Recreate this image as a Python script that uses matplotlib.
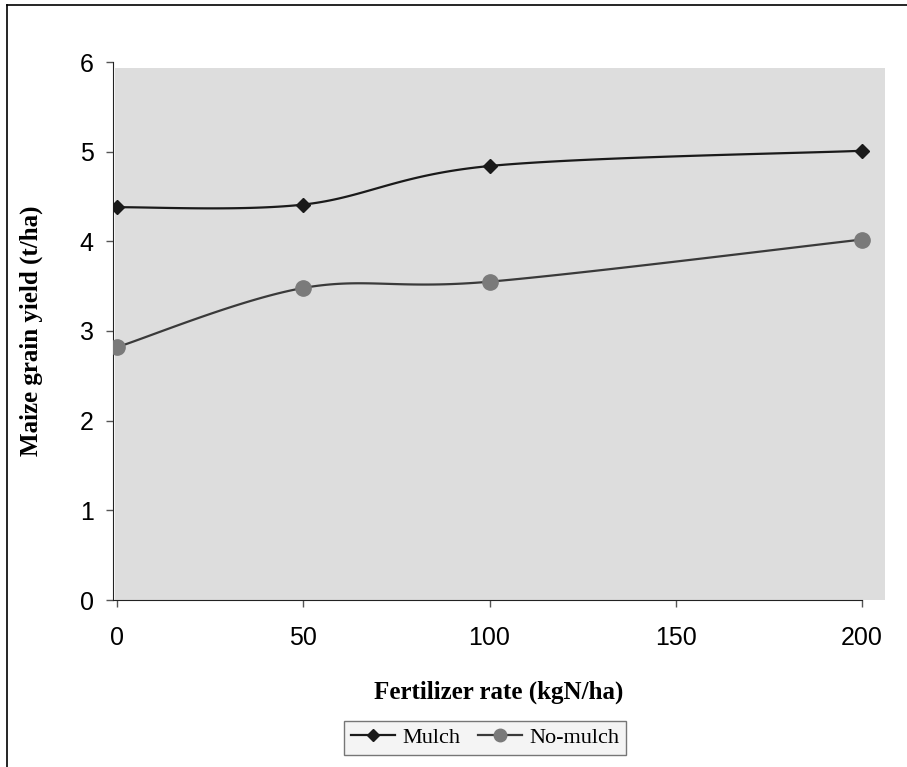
import numpy as np
import matplotlib
matplotlib.use("Agg")
from matplotlib import pyplot as plt
from matplotlib.patches import Rectangle
from matplotlib.lines import Line2D

# data
fert_rate = [0, 50, 100, 200]
mulch = [4.38, 4.41, 4.84, 5.01]
no_mulch = [2.82, 3.48, 3.55, 4.02]
x_ticks = [0, 50, 100, 150, 200]
y_ticks = [0, 1, 2, 3, 4, 5, 6]


def smooth(xs, ys, sx=3.725, sy=89.7, n=40):
    """Excel-like smoothed line: cubic Bezier through the points (screen scaled)."""
    p = np.column_stack([np.asarray(xs, float) * sx, np.asarray(ys, float) * sy])
    pts = np.vstack([p[0], p, p[-1]])
    out = []
    t = np.linspace(0, 1, n)[:, None]
    for i in range(1, len(pts) - 2):
        p0, p1 = pts[i], pts[i + 1]
        c1 = p0 + (pts[i + 1] - pts[i - 1]) / 6.0
        c2 = p1 - (pts[i + 2] - pts[i]) / 6.0
        seg = (1 - t) ** 3 * p0 + 3 * (1 - t) ** 2 * t * c1 + 3 * (1 - t) * t ** 2 * c2 + t ** 3 * p1
        out.append(seg if i == 1 else seg[1:])
    out = np.vstack(out)
    return out[:, 0] / sx, out[:, 1] / sy


fig = plt.figure(figsize=(9.07, 7.67), dpi=100)
W, H = 907, 767
ax = fig.add_axes([113 / W, 1 - 600 / H, (885 - 113) / W, (600 - 62) / H])
ax.set_facecolor("none")
ax.set_xlim(-1.1, 206.2)
ax.set_ylim(0, 6)

# gray plot area
ax.add_patch(Rectangle((-0.5, 0), 206.7, 5.93, facecolor="#dddddd", edgecolor="none", zorder=0))

mx, my = smooth(fert_rate, mulch)
nx, ny = smooth(fert_rate, no_mulch)
ax.plot(mx, my, color="#1a1a1a", lw=1.6, zorder=2)
ax.plot(fert_rate, mulch, ls="none", marker="D", ms=7, color="#1a1a1a", zorder=3)
ax.plot(nx, ny, color="#3a3a3a", lw=1.6, zorder=2)
ax.plot(fert_rate, no_mulch, ls="none", marker="o", ms=11, color="#7a7a7a", zorder=3)

for s in ["top", "right"]:
    ax.spines[s].set_visible(False)
ax.spines["left"].set_bounds(0, 6)
ax.spines["bottom"].set_bounds(-1.1, 200)
ax.spines["left"].set_color("#222222")
ax.spines["bottom"].set_color("#222222")

ax.set_xticks(x_ticks)
ax.set_yticks(y_ticks)
ax.tick_params(axis="both", direction="out", length=5, width=1, colors="#555555",
               labelcolor="black", labelsize=18)
ax.tick_params(axis="x", pad=14)
ax.tick_params(axis="y", pad=9)
for lab in ax.get_xticklabels() + ax.get_yticklabels():
    lab.set_family("Liberation Sans")

ax.set_xlabel("Fertilizer rate (kgN/ha)", family="Liberation Serif", fontweight="bold",
              fontsize=18, labelpad=22)
ax.set_ylabel("Maize grain yield (t/ha)", family="Liberation Serif", fontweight="bold",
              fontsize=18, labelpad=26)

handles = [
    Line2D([], [], color="#1a1a1a", lw=1.6, marker="D", ms=6),
    Line2D([], [], color="#3a3a3a", lw=1.6, marker="o", ms=9, markerfacecolor="#7a7a7a",
           markeredgecolor="#7a7a7a"),
]
leg = fig.legend(handles, ["Mulch", "No-mulch"], loc="center", bbox_to_anchor=(485 / W, 1 - 738 / H),
                 ncol=2, frameon=True, fancybox=False, prop={"family": "Liberation Serif", "size": 16},
                 handlelength=2.0, handletextpad=0.3, columnspacing=0.8, borderpad=0.3)
leg.get_frame().set_edgecolor("#555555")
leg.get_frame().set_facecolor("#f2f2f2")
leg.get_frame().set_linewidth(1.0)

# outer border of the chart object
fig.add_artist(Line2D([7 / W, 7 / W], [0, 1 - 5 / H], color="black", lw=1.2, transform=fig.transFigure))
fig.add_artist(Line2D([7 / W, 1], [1 - 5 / H, 1 - 5 / H], color="black", lw=1.2, transform=fig.transFigure))

fig.savefig("out.png", dpi=100)
